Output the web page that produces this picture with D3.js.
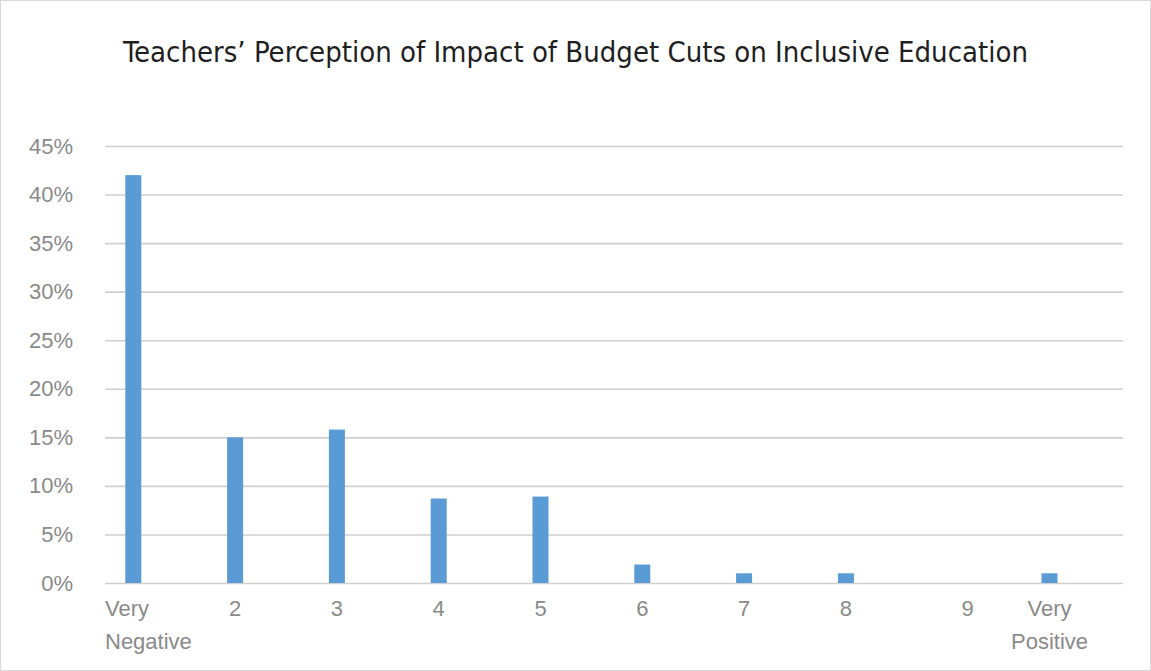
<!DOCTYPE html>
<meta charset="utf-8">
<style>
  body { margin: 0; background: #fff; }
  text { font-family: "Liberation Sans", Arial, sans-serif; }
</style>
<body>
<script src="https://d3js.org/d3.v7.min.js"></script>
<script>
// data
var title = "Teachers\u2019 Perception of Impact of Budget Cuts on Inclusive Education";
var categories = ["Very Negative", "2", "3", "4", "5", "6", "7", "8", "9", "Very Positive"];
var shares = [42.0, 15.0, 15.8, 8.7, 8.9, 1.9, 1.0, 1.0, 0, 1.0];
var yTicks = [0, 5, 10, 15, 20, 25, 30, 35, 40, 45];

var W = 1151, H = 671;
var margin = {top: 146, right: 28, bottom: 88, left: 105};
var width = W - margin.left - margin.right,
    height = H - margin.top - margin.bottom;

var svg = d3.select("body").append("svg")
    .attr("width", W)
    .attr("height", H);

// chart area border
svg.append("rect")
    .attr("x", 0.5).attr("y", 0.5)
    .attr("width", W - 1).attr("height", H - 1)
    .attr("fill", "#fff")
    .attr("stroke", "#d9d9d9");

var x = d3.scaleBand().domain(categories).range([0, width]);
var y = d3.scaleLinear().domain([0, 45]).range([height, 0]);

var g = svg.append("g")
    .attr("transform", "translate(" + margin.left + "," + margin.top + ")");

// gridlines
var yAxis = d3.axisLeft(y)
    .tickValues(yTicks)
    .tickSize(-width)
    .tickPadding(32)
    .tickFormat(function(d) { return d + "%"; });

g.append("g")
    .attr("class", "axis axis--y")
    .call(yAxis)
    .call(function(a) {
      a.select(".domain").remove();
      a.selectAll(".tick line").attr("stroke", "#cfcfcf").attr("stroke-width", 1.6);
      a.selectAll(".tick text")
        .attr("fill", "#8a8a8a")
        .style("font-size", "22px");
    });

var barW = 16, barShift = -22.6;
function barCenter(d) { return x(d) + x.bandwidth() / 2 + barShift; }

g.append("g").selectAll("rect")
    .data(categories)
  .enter().append("rect")
    .attr("x", function(d) { return barCenter(d) - barW / 2; })
    .attr("y", function(d, i) { return y(shares[i]); })
    .attr("width", barW)
    .attr("height", function(d, i) { return height - y(shares[i]); })
    .attr("fill", "#5b9bd5");

// category labels (wrapped in two lines like the original)
var labels = g.append("g").attr("class", "axis axis--x")
    .attr("transform", "translate(0," + height + ")");

labels.selectAll("text")
    .data(categories)
  .enter().append("text")
    .attr("fill", "#8a8a8a")
    .style("font-size", "22px")
    .each(function(d, i) {
      var t = d3.select(this);
      var words = d.split(" ");
      var cx = barCenter(d);
      if (d === "9") cx += 20;
      var anchor = "middle";
      if (i === 0) { cx = 0; anchor = "start"; }
      t.attr("text-anchor", anchor);
      words.forEach(function(w, k) {
        t.append("tspan")
          .attr("x", cx)
          .attr("y", 33 + k * 33)
          .text(w);
      });
    });

// title
var tt = svg.append("text")
    .attr("x", W / 2)
    .attr("y", 62)
    .attr("text-anchor", "middle")
    .attr("fill", "#1f1f1f")
    .style("font-family", "'Liberation Sans Narrow', 'DejaVu Sans Condensed', sans-serif")
    .style("font-size", "35px")
    .text(title);
var tw = tt.node().getComputedTextLength();
tt.style("font-size", (35 * 905 / tw) + "px");
</script>
